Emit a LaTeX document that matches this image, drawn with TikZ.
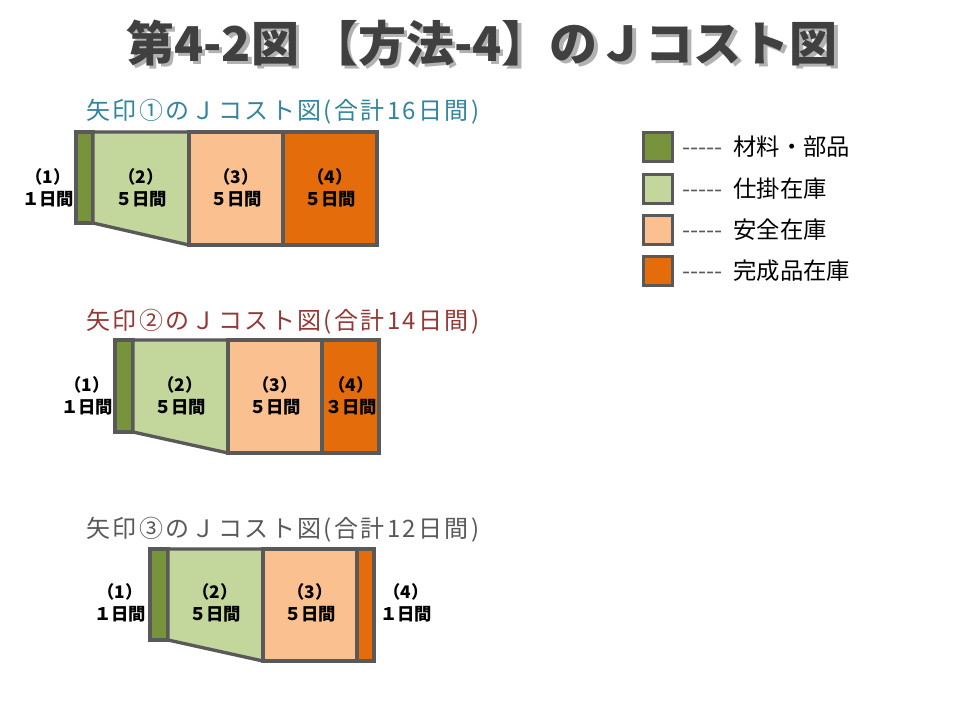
\documentclass[tikz,border=0pt]{standalone}
\usepackage{fontspec}
\usepackage{xcolor}
\newfontfamily\jpfont{Noto Sans CJK JP}
\newfontfamily\jpwide{Noto Sans CJK JP}[LetterSpace=10]
\definecolor{framegray}{HTML}{595959}
\definecolor{rawgreen}{HTML}{77933C}
\definecolor{wipgreen}{HTML}{C3D69B}
\definecolor{safepeach}{HTML}{FAC090}
\definecolor{doneorange}{HTML}{E46C0A}
\definecolor{tealone}{HTML}{31859C}
\definecolor{redtwo}{HTML}{953735}
\definecolor{graythree}{HTML}{595959}
\definecolor{titlegray}{HTML}{404040}
\newcommand{\shadowed}[1]{\makebox[0pt][l]{\raisebox{-2.5pt}{\hspace{2.5pt}\textcolor{black!30}{#1}}}\textcolor{titlegray}{#1}}

\begin{document}
\begin{tikzpicture}[x=0.75pt,y=-0.75pt,
        part/.style={draw=framegray,line width=2.5pt,line join=miter},
        days/.style={font=\jpfont\bfseries\fontsize{13}{17}\selectfont,align=center,inner sep=0pt},
        chart title/.style={font=\jpwide\fontsize{18}{22}\selectfont,anchor=west,inner sep=0pt},
        big title/.style={font=\jpfont\bfseries\fontsize{36}{40}\selectfont,inner sep=0pt},
        key box/.style={draw=framegray,line width=2.5pt,minimum size=21.5pt,inner sep=0pt},
        key text/.style={font=\jpfont\fontsize{17.5}{20}\selectfont,anchor=west,inner sep=0pt}
      ]
      \useasboundingbox[fill=white] (0,0) rectangle (960,720);

      % heading, shadow drawn under the text
      \node[big title] (title) at (482,45) {\shadowed{第4-2図 【方法-4】のＪコスト図}};

      % chart 1
      \node[chart title,text=tealone] (t1) at (86,112) {矢印①のＪコスト図(合計16日間)};
      \filldraw[part,fill=rawgreen] (76,132) rectangle (93,223);
      \filldraw[part,fill=wipgreen] (93,132) -- (189,132) -- (189,245) -- (93,223) -- cycle;
      \filldraw[part,fill=safepeach] (189,132) rectangle (283,245);
      \filldraw[part,fill=doneorange] (283,132) rectangle (377,245);
      \node[days] (c1a) at (48,188)  {（1）\\１日間};
      \node[days] (c1b) at (141,188) {（2）\\５日間};
      \node[days] (c1c) at (236,188) {（3）\\５日間};
      \node[days] (c1d) at (330,188) {（4）\\５日間};

      % chart 2
      \node[chart title,text=redtwo] (t2) at (86,322) {矢印②のＪコスト図(合計14日間)};
      \filldraw[part,fill=rawgreen] (115,340) rectangle (133,432);
      \filldraw[part,fill=wipgreen] (133,340) -- (228,340) -- (228,453) -- (133,432) -- cycle;
      \filldraw[part,fill=safepeach] (228,340) rectangle (322,453);
      \filldraw[part,fill=doneorange] (322,340) rectangle (379,453);
      \node[days] (c2a) at (87,396)  {（1）\\１日間};
      \node[days] (c2b) at (180,396) {（2）\\５日間};
      \node[days] (c2c) at (275,396) {（3）\\５日間};
      \node[days] (c2d) at (351,396) {（4）\\３日間};

      % chart 3
      \node[chart title,text=graythree] (t3) at (86,530) {矢印③のＪコスト図(合計12日間)};
      \filldraw[part,fill=rawgreen] (150,549) rectangle (168,640);
      \filldraw[part,fill=wipgreen] (168,549) -- (263,549) -- (263,661) -- (168,640) -- cycle;
      \filldraw[part,fill=safepeach] (263,549) rectangle (357,661);
      \filldraw[part,fill=doneorange] (357,549) rectangle (374,661);
      \node[days] (c3a) at (120,603) {（1）\\１日間};
      \node[days] (c3b) at (215,603) {（2）\\５日間};
      \node[days] (c3c) at (310,603) {（3）\\５日間};
      \node[days] (c3d) at (406,603) {（4）\\１日間};

      % legend
      \node[key box,fill=rawgreen]   (k1) at (658,147) {};
      \node[key box,fill=wipgreen]   (k2) at (658,189) {};
      \node[key box,fill=safepeach]  (k3) at (658,230) {};
      \node[key box,fill=doneorange] (k4) at (658,271) {};
      \node[key text] (k1t) at (682,147) {{\color{framegray}-----}\hspace{8pt}材料・部品};
      \node[key text] (k2t) at (682,189) {{\color{framegray}-----}\hspace{8pt}仕掛在庫};
      \node[key text] (k3t) at (682,230) {{\color{framegray}-----}\hspace{8pt}安全在庫};
      \node[key text] (k4t) at (682,271) {{\color{framegray}-----}\hspace{8pt}完成品在庫};
    \end{tikzpicture}
\end{document}
